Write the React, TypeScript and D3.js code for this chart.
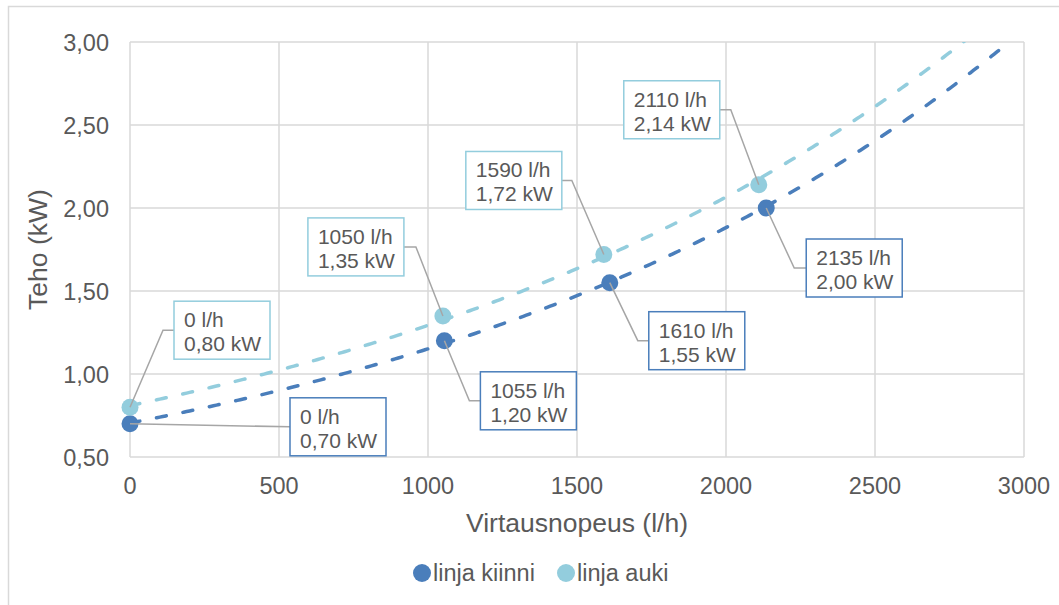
import React from "react";
import * as d3 from "d3";

// ---- data ----
const seriesNames = ["linja kiinni", "linja auki"];
const flowClosed = [0, 1055, 1610, 2135];
const powerClosed = [0.7, 1.2, 1.55, 2.0];
const flowOpen = [0, 1050, 1590, 2110];
const powerOpen = [0.8, 1.35, 1.72, 2.14];
const xTicks = [0, 500, 1000, 1500, 2000, 2500, 3000];
const yTicks = [0.5, 1.0, 1.5, 2.0, 2.5, 3.0];

// ---- layout (label box offsets in px relative to the point) ----
const labelOffsetsClosed = [
  { dx: 160, dy: -26, side: "left", elbow: 0 },
  { dx: 36, dy: 31, side: "left", elbow: 11 },
  { dx: 39, dy: 29, side: "left", elbow: 11 },
  { dx: 40, dy: 31, side: "left", elbow: 12 },
];
const labelOffsetsOpen = [
  { dx: 44, dy: -106, side: "left", elbow: 11 },
  { dx: -135, dy: -98, side: "right", elbow: 12 },
  { dx: -138, dy: -103, side: "right", elbow: 10 },
  { dx: -135, dy: -104, side: "right", elbow: 11 },
];

const W = 1059;
const H = 605;
const plot = { left: 130, right: 1024, top: 42, bottom: 457 };
const colors = ["#4a7ebb", "#93cddd"];
const textColor = "#595959";
const gridColor = "#d9d9d9";
const leaderColor = "#a6a6a6";
const FONT = "'Liberation Sans', Arial, sans-serif";

const fmtComma = (v: number, d: number) => v.toFixed(d).replace(".", ",");

function expFit(xs: number[], ys: number[]) {
  const ly = ys.map((y) => Math.log(y));
  const mx = d3.mean(xs)!;
  const my = d3.mean(ly)!;
  let sxy = 0,
    sxx = 0;
  xs.forEach((x, i) => {
    sxy += (x - mx) * (ly[i] - my);
    sxx += (x - mx) * (x - mx);
  });
  const b = sxy / sxx;
  const a = Math.exp(my - b * mx);
  return (x: number) => a * Math.exp(b * x);
}

export default function App() {
  const x = d3.scaleLinear().domain([0, 3000]).range([plot.left, plot.right]);
  const y = d3.scaleLinear().domain([0.5, 3.0]).range([plot.bottom, plot.top]);

  const series = [
    { name: seriesNames[0], xs: flowClosed, ys: powerClosed, color: colors[0], offs: labelOffsetsClosed },
    { name: seriesNames[1], xs: flowOpen, ys: powerOpen, color: colors[1], offs: labelOffsetsOpen },
  ];

  const line = d3
    .line<number[]>()
    .x((d) => x(d[0]))
    .y((d) => y(d[1]));

  const boxW = 96;
  const boxH = 58;

  return (
    <svg
      width={W}
      height={H}
      style={{ position: "absolute", left: 0, top: 0, display: "block" }}
      fontFamily={FONT}
    >
      <rect x={0} y={0} width={W} height={H} fill="#fff" />
      <rect x={8.5} y={6.5} width={W + 20} height={H + 20} fill="none" stroke={gridColor} strokeWidth={1.5} />
      <defs>
        <clipPath id="plotClip">
          <rect x={plot.left} y={plot.top} width={plot.right - plot.left} height={plot.bottom - plot.top} />
        </clipPath>
      </defs>
      {/* grid */}
      {yTicks.map((t) => (
        <line key={"gy" + t} x1={plot.left} x2={plot.right} y1={y(t)} y2={y(t)} stroke={gridColor} strokeWidth={1.5} />
      ))}
      {xTicks.map((t) => (
        <line key={"gx" + t} x1={x(t)} x2={x(t)} y1={plot.top} y2={plot.bottom} stroke={gridColor} strokeWidth={1.5} />
      ))}
      {/* tick labels */}
      {yTicks.map((t) => (
        <text key={"ty" + t} x={109} y={y(t) + 8.5} textAnchor="end" fontSize={23.5} fill={textColor}>
          {fmtComma(t, 2)}
        </text>
      ))}
      {xTicks.map((t) => (
        <text key={"tx" + t} x={x(t)} y={494} textAnchor="middle" fontSize={23.5} fill={textColor}>
          {t}
        </text>
      ))}
      {/* axis titles */}
      <text x={(plot.left + plot.right) / 2} y={532} textAnchor="middle" fontSize={26.5} fill={textColor}>
        Virtausnopeus (l/h)
      </text>
      <text
        transform={`translate(47,${(plot.top + plot.bottom) / 2}) rotate(-90)`}
        textAnchor="middle"
        fontSize={26.5}
        fill={textColor}
      >
        Teho (kW)
      </text>
      {/* trendlines */}
      <g clipPath="url(#plotClip)">
        {series.map((s) => {
          const f = expFit(s.xs, s.ys);
          const pts = d3.range(0, 3001, 10).map((v) => [v, f(v)]);
          return (
            <path
              key={"tl" + s.name}
              d={line(pts) || ""}
              fill="none"
              stroke={s.color}
              strokeWidth={3.5}
              strokeDasharray="10 17"
              strokeLinecap="round"
            />
          );
        })}
      </g>
      {/* markers */}
      {series.map((s) =>
        s.xs.map((v, i) => (
          <circle key={"m" + s.name + i} cx={x(v)} cy={y(s.ys[i])} r={8.5} fill={s.color} />
        ))
      )}
      {/* leaders and labels */}
      {series.map((s) =>
        s.xs.map((v, i) => {
          const px = x(v);
          const py = y(s.ys[i]);
          const o = s.offs[i];
          const bx = px + o.dx;
          const by = py + o.dy;
          const my = by + boxH / 2;
          const ex = o.side === "left" ? bx : bx + boxW;
          const cx = o.side === "left" ? ex - o.elbow : ex + o.elbow;
          const pathD = o.elbow === 0 ? `M${px},${py}L${ex},${my}` : `M${px},${py}L${cx},${my}L${ex},${my}`;
          return (
            <g key={"lab" + s.name + i}>
              <path d={pathD} fill="none" stroke={leaderColor} strokeWidth={1.5} />
              <rect x={bx} y={by} width={boxW} height={boxH} fill="#fff" stroke={s.color} strokeWidth={1.5} />
              <text x={bx + 10} y={by + 26} fontSize={21} fill={textColor}>
                {`${v} l/h`}
              </text>
              <text x={bx + 10} y={by + 50} fontSize={21} fill={textColor}>
                {`${fmtComma(s.ys[i], 2)} kW`}
              </text>
            </g>
          );
        })
      )}
      {/* legend */}
      {series.map((s, i) => {
        const lx = [422, 566][i];
        return (
          <g key={"leg" + s.name}>
            <circle cx={lx} cy={573} r={9} fill={s.color} />
            <text x={lx + 11} y={581} fontSize={23.5} fill={textColor}>
              {s.name}
            </text>
          </g>
        );
      })}
    </svg>
  );
}
